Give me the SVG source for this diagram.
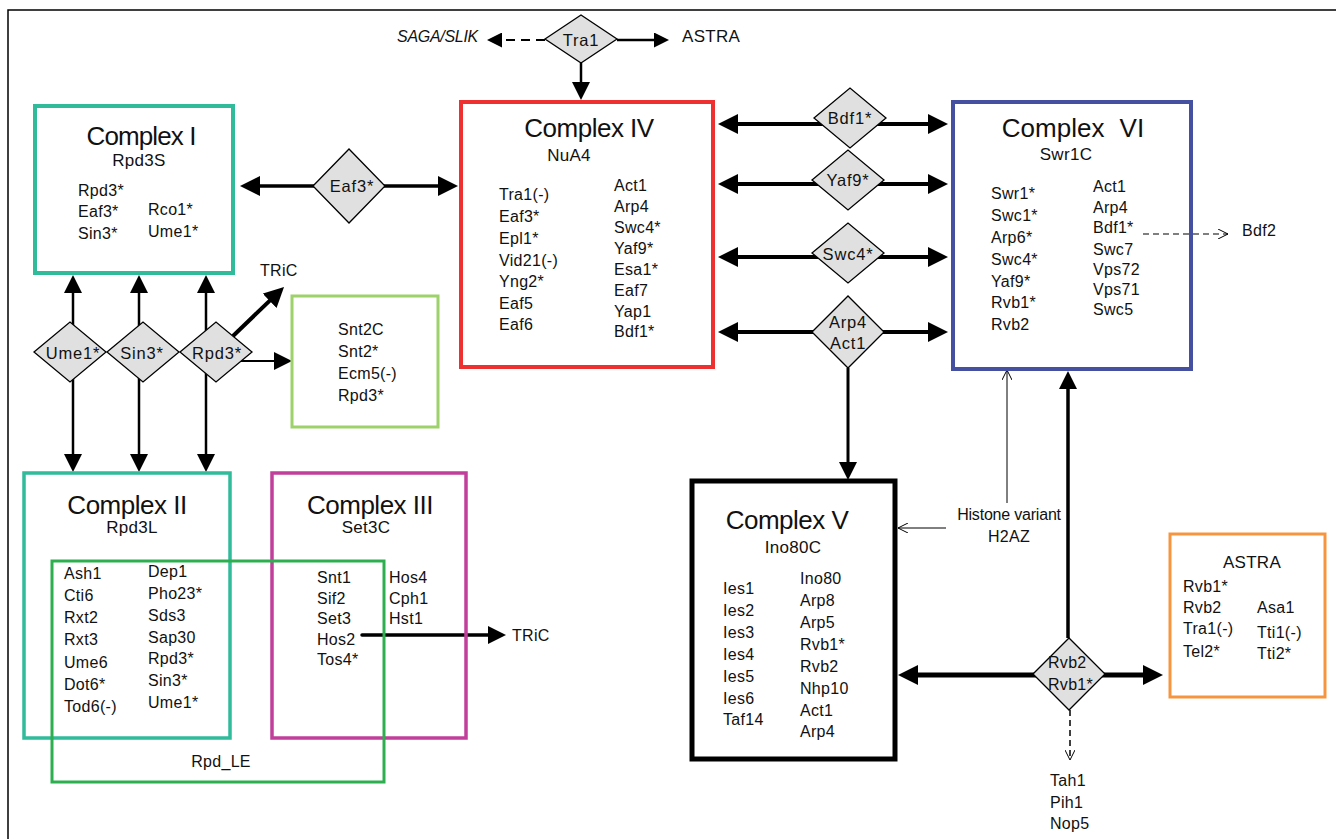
<svg xmlns="http://www.w3.org/2000/svg" width="1336" height="839" viewBox="0 0 1336 839">
<style>
.t{font-family:"Liberation Sans",Arial,sans-serif;font-size:16px;fill:#111;letter-spacing:0.3px}
.title{font-size:26px;letter-spacing:-0.5px;text-anchor:middle}
.sub{font-size:17px;text-anchor:middle}
.dl{font-size:16.5px;letter-spacing:0.8px;text-anchor:middle}
.mid{text-anchor:middle}
.box{fill:none}
.dia{fill:#e0e0e0;stroke:#000;stroke-width:1.3}
.ln{stroke:#000;fill:none}
</style>
<defs>
<marker id="ahL" viewBox="0 0 20 20" refX="14" refY="10" markerWidth="20" markerHeight="20" markerUnits="userSpaceOnUse" orient="auto-start-reverse"><path d="M0,0 L20,10 L0,20 z" fill="#000"/></marker>
<marker id="ahM" viewBox="0 0 18 18" refX="13" refY="9" markerWidth="18" markerHeight="18" markerUnits="userSpaceOnUse" orient="auto-start-reverse"><path d="M0,0 L18,9 L0,18 z" fill="#000"/></marker>
<marker id="ahS" viewBox="0 0 15 15" refX="11" refY="7.5" markerWidth="15" markerHeight="15" markerUnits="userSpaceOnUse" orient="auto"><path d="M0,0 L15,7.5 L0,15 z" fill="#000"/></marker>
<marker id="oa" viewBox="0 0 10 10" refX="10" refY="5" markerWidth="10" markerHeight="10" markerUnits="userSpaceOnUse" orient="auto"><path d="M0,0 L10,5 L0,10" fill="none" stroke="#000" stroke-width="1"/></marker>
</defs>
<rect x="0" y="0" width="1336" height="839" fill="#fff"/>
<path d="M8,839 L8,10 L1336,10" fill="none" stroke="#000" stroke-width="1.5"/>

<g id="connectors">
<line class="ln" x1="545" y1="40" x2="491" y2="40" stroke-width="2" stroke-dasharray="9,6" marker-end="url(#ahS)"/>
<line class="ln" x1="617" y1="40" x2="665" y2="40" stroke-width="2.5" marker-end="url(#ahS)"/>
<line class="ln" x1="581" y1="63" x2="581" y2="95" stroke-width="2.5" marker-end="url(#ahM)"/>
<line class="ln" x1="246" y1="186" x2="452" y2="186" stroke-width="3.5" marker-start="url(#ahL)" marker-end="url(#ahL)"/>
<line class="ln" x1="724" y1="124" x2="942" y2="124" stroke-width="4" marker-start="url(#ahL)" marker-end="url(#ahL)"/>
<line class="ln" x1="724" y1="184" x2="942" y2="184" stroke-width="4" marker-start="url(#ahL)" marker-end="url(#ahL)"/>
<line class="ln" x1="724" y1="257" x2="942" y2="257" stroke-width="4" marker-start="url(#ahL)" marker-end="url(#ahL)"/>
<line class="ln" x1="724" y1="332" x2="942" y2="332" stroke-width="4" marker-start="url(#ahL)" marker-end="url(#ahL)"/>
<line class="ln" x1="848" y1="368" x2="848" y2="475" stroke-width="3" marker-end="url(#ahM)"/>
<line class="ln" x1="73" y1="280" x2="73" y2="467" stroke-width="2.5" marker-start="url(#ahM)" marker-end="url(#ahM)"/>
<line class="ln" x1="139" y1="280" x2="139" y2="467" stroke-width="2.5" marker-start="url(#ahM)" marker-end="url(#ahM)"/>
<line class="ln" x1="206" y1="280" x2="206" y2="467" stroke-width="2.5" marker-start="url(#ahM)" marker-end="url(#ahM)"/>
<line class="ln" x1="233" y1="336" x2="279.7" y2="291.1" stroke-width="4" marker-end="url(#ahL)"/>
<line class="ln" x1="241" y1="361" x2="287" y2="361" stroke-width="2" marker-end="url(#ahM)"/>
<line class="ln" x1="362" y1="635" x2="501" y2="635" stroke-width="3.5" stroke-linecap="round" marker-end="url(#ahM)"/>
<line class="ln" x1="1143" y1="234" x2="1228" y2="234" stroke-width="1.2" stroke-dasharray="6,4" marker-end="url(#oa)"/>
<line class="ln" x1="1007" y1="503" x2="1007" y2="370" stroke-width="1" marker-end="url(#oa)"/>
<line class="ln" x1="946" y1="528" x2="898" y2="528" stroke-width="1" marker-end="url(#oa)"/>
<line class="ln" x1="1068" y1="638" x2="1068" y2="376" stroke-width="3.5" marker-end="url(#ahM)"/>
<line class="ln" x1="904" y1="675" x2="1157" y2="675" stroke-width="5" marker-start="url(#ahL)" marker-end="url(#ahL)"/>
<line class="ln" x1="1070" y1="710" x2="1070" y2="760" stroke-width="1.5" stroke-dasharray="6,4" marker-end="url(#oa)"/>
</g>

<g id="complex1">
<rect class="box" x="35" y="106" width="198" height="167" stroke="#30bb9b" stroke-width="4"/>
<text class="t title" x="141" y="145" style="letter-spacing:-0.9px">Complex I</text>
<text class="t sub" x="139" y="166">Rpd3S</text>
<text class="t" x="78" y="196">Rpd3*</text>
<text class="t" x="78" y="217">Eaf3*</text>
<text class="t" x="78" y="239">Sin3*</text>
<text class="t" x="148" y="215">Rco1*</text>
<text class="t" x="148" y="237">Ume1*</text>
</g>

<g id="snt2c">
<rect class="box" x="292" y="296" width="146" height="131" stroke="#9dd16a" stroke-width="3"/>
<text class="t" x="338" y="335">Snt2C</text>
<text class="t" x="338" y="357">Snt2*</text>
<text class="t" x="338" y="379">Ecm5(-)</text>
<text class="t" x="338" y="401">Rpd3*</text>
</g>

<g id="complex4">
<rect class="box" x="461" y="102" width="252" height="265" stroke="#ee3030" stroke-width="4"/>
<text class="t title" x="589" y="137">Complex IV</text>
<text class="t sub" x="569" y="161">NuA4</text>
<text class="t" x="499" y="200">Tra1(-)</text>
<text class="t" x="499" y="222">Eaf3*</text>
<text class="t" x="499" y="244">Epl1*</text>
<text class="t" x="499" y="266">Vid21(-)</text>
<text class="t" x="499" y="287">Yng2*</text>
<text class="t" x="499" y="309">Eaf5</text>
<text class="t" x="499" y="330">Eaf6</text>
<text class="t" x="614" y="191">Act1</text>
<text class="t" x="614" y="212">Arp4</text>
<text class="t" x="614" y="233">Swc4*</text>
<text class="t" x="614" y="254">Yaf9*</text>
<text class="t" x="614" y="275">Esa1*</text>
<text class="t" x="614" y="296">Eaf7</text>
<text class="t" x="614" y="317">Yap1</text>
<text class="t" x="614" y="337">Bdf1*</text>
</g>

<g id="complex6">
<rect class="box" x="953" y="102" width="238" height="267" stroke="#4650a0" stroke-width="4"/>
<text class="t title" x="1073" y="137" style="letter-spacing:0;word-spacing:8px">Complex VI</text>
<text class="t sub" x="1066" y="160">Swr1C</text>
<text class="t" x="991" y="199">Swr1*</text>
<text class="t" x="991" y="221">Swc1*</text>
<text class="t" x="991" y="243">Arp6*</text>
<text class="t" x="991" y="265">Swc4*</text>
<text class="t" x="991" y="287">Yaf9*</text>
<text class="t" x="991" y="308">Rvb1*</text>
<text class="t" x="991" y="330">Rvb2</text>
<text class="t" x="1093" y="192">Act1</text>
<text class="t" x="1093" y="213">Arp4</text>
<text class="t" x="1093" y="233">Bdf1*</text>
<text class="t" x="1093" y="255">Swc7</text>
<text class="t" x="1093" y="275">Vps72</text>
<text class="t" x="1093" y="295">Vps71</text>
<text class="t" x="1093" y="315">Swc5</text>
</g>

<g id="complex2">
<rect class="box" x="24" y="473" width="206" height="265" stroke="#30bb9b" stroke-width="3.5"/>
<text class="t title" x="127" y="514">Complex II</text>
<text class="t sub" x="132" y="533">Rpd3L</text>
<text class="t" x="64" y="579">Ash1</text>
<text class="t" x="64" y="601">Cti6</text>
<text class="t" x="64" y="623">Rxt2</text>
<text class="t" x="64" y="645">Rxt3</text>
<text class="t" x="64" y="668">Ume6</text>
<text class="t" x="64" y="690">Dot6*</text>
<text class="t" x="64" y="712">Tod6(-)</text>
<text class="t" x="148" y="577">Dep1</text>
<text class="t" x="148" y="599">Pho23*</text>
<text class="t" x="148" y="621">Sds3</text>
<text class="t" x="148" y="643">Sap30</text>
<text class="t" x="148" y="664">Rpd3*</text>
<text class="t" x="148" y="686">Sin3*</text>
<text class="t" x="148" y="708">Ume1*</text>
</g>

<g id="complex3">
<rect class="box" x="272" y="473" width="194" height="265" stroke="#c13f9b" stroke-width="3.5"/>
<text class="t title" x="370" y="514">Complex III</text>
<text class="t sub" x="366" y="533">Set3C</text>
<text class="t" x="317" y="583">Snt1</text>
<text class="t" x="317" y="604">Sif2</text>
<text class="t" x="317" y="624">Set3</text>
<text class="t" x="317" y="645">Hos2</text>
<text class="t" x="317" y="665">Tos4*</text>
<text class="t" x="389" y="583">Hos4</text>
<text class="t" x="389" y="604">Cph1</text>
<text class="t" x="389" y="624">Hst1</text>
</g>

<g id="rpd_le">
<rect class="box" x="52" y="561" width="332" height="221" stroke="#2daf4f" stroke-width="3"/>
<text class="t mid" x="221" y="767">Rpd_LE</text>
</g>

<g id="complex5">
<rect class="box" x="692" y="481" width="203" height="278" stroke="#000" stroke-width="5"/>
<text class="t title" x="787" y="529">Complex V</text>
<text class="t sub" x="793" y="553">Ino80C</text>
<text class="t" x="723" y="594">Ies1</text>
<text class="t" x="723" y="616">Ies2</text>
<text class="t" x="723" y="638">Ies3</text>
<text class="t" x="723" y="660">Ies4</text>
<text class="t" x="723" y="682">Ies5</text>
<text class="t" x="723" y="704">Ies6</text>
<text class="t" x="723" y="725">Taf14</text>
<text class="t" x="800" y="584">Ino80</text>
<text class="t" x="800" y="606">Arp8</text>
<text class="t" x="800" y="628">Arp5</text>
<text class="t" x="800" y="650">Rvb1*</text>
<text class="t" x="800" y="672">Rvb2</text>
<text class="t" x="800" y="694">Nhp10</text>
<text class="t" x="800" y="716">Act1</text>
<text class="t" x="800" y="737">Arp4</text>
</g>

<g id="astra_box">
<rect class="box" x="1170" y="534" width="155" height="163" stroke="#f7953f" stroke-width="3"/>
<text class="t sub" x="1252" y="568">ASTRA</text>
<text class="t" x="1183" y="592">Rvb1*</text>
<text class="t" x="1183" y="613">Rvb2</text>
<text class="t" x="1183" y="634">Tra1(-)</text>
<text class="t" x="1183" y="657">Tel2*</text>
<text class="t" x="1257" y="613">Asa1</text>
<text class="t" x="1257" y="638">Tti1(-)</text>
<text class="t" x="1257" y="659">Tti2*</text>
</g>

<g id="tra1">
<polygon class="dia" points="545,39 581,15 617,39 581,63"/>
<text class="t dl" x="581" y="46">Tra1</text>
</g>
<g id="saga_slik"><text class="t" x="478" y="42" text-anchor="end" font-style="italic" style="letter-spacing:-0.3px">SAGA/SLIK</text></g>
<g id="astra_label"><text class="t" x="682" y="42" style="font-size:17px">ASTRA</text></g>

<g id="eaf3"><polygon class="dia" points="313,186 349,149 385,186 349,223"/><text class="t dl" x="352" y="192">Eaf3*</text></g>
<g id="bdf1"><polygon class="dia" points="814,118 850,88 886,118 850,148"/><text class="t dl" x="850" y="124">Bdf1*</text></g>
<g id="yaf9"><polygon class="dia" points="812,180 848,150 884,180 848,210"/><text class="t dl" x="848" y="186">Yaf9*</text></g>
<g id="swc4"><polygon class="dia" points="812,253 848,223 884,253 848,283"/><text class="t dl" x="848" y="260">Swc4*</text></g>
<g id="arp4_act1"><polygon class="dia" points="812,332 848,296 884,332 848,368"/><text class="t dl" x="848" y="328">Arp4</text><text class="t dl" x="848" y="349">Act1</text></g>

<g id="ume1"><polygon class="dia" points="34,352 70,322 106,352 70,382"/><text class="t dl" x="73" y="359">Ume1*</text></g>
<g id="sin3"><polygon class="dia" points="107,352 143,322 179,352 143,382"/><text class="t dl" x="142" y="359">Sin3*</text></g>
<g id="rpd3"><polygon class="dia" points="180,352 216,322 252,352 216,382"/><text class="t dl" x="217" y="359">Rpd3*</text></g>

<g id="tric1"><text class="t" x="260" y="276">TRiC</text></g>
<g id="tric2"><text class="t" x="512" y="641">TRiC</text></g>
<g id="bdf2"><text class="t" x="1242" y="236">Bdf2</text></g>
<g id="h2az"><text class="t mid" x="1009" y="520" style="letter-spacing:-0.2px">Histone variant</text><text class="t mid" x="1009" y="542">H2AZ</text></g>

<g id="rvb"><polygon class="dia" points="1033,674 1069,638 1105,674 1069,710"/><text class="t" x="1048" y="668">Rvb2</text><text class="t" x="1048" y="690">Rvb1*</text></g>

<g id="tah1"><text class="t" x="1050" y="786">Tah1</text><text class="t" x="1050" y="808">Pih1</text><text class="t" x="1050" y="829">Nop5</text></g>
</svg>
